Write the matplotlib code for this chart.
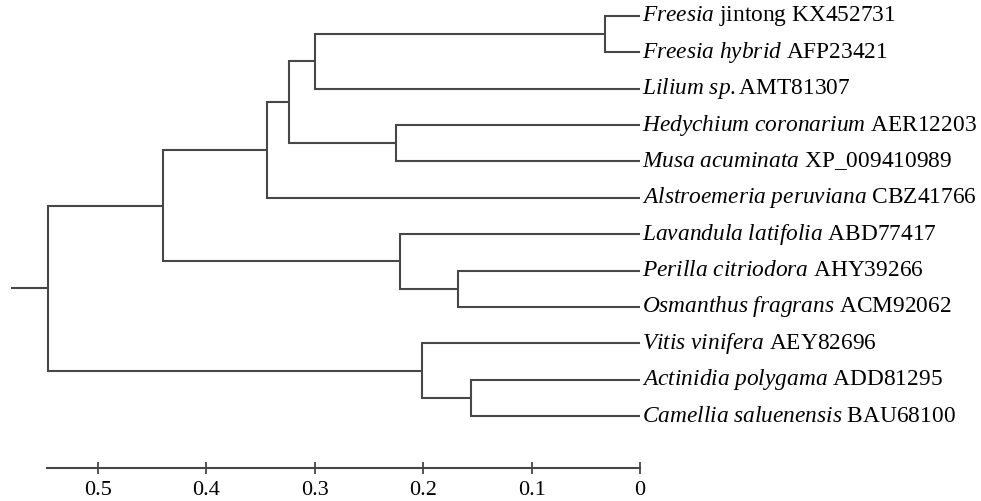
import matplotlib
matplotlib.use('Agg')
import numpy as np
import matplotlib.pyplot as plt

plt.rcParams['font.family'] = ['Liberation Serif', 'DejaVu Serif']
plt.rcParams['mathtext.fontset'] = 'custom'
plt.rcParams['mathtext.rm'] = 'Liberation Serif'
plt.rcParams['mathtext.it'] = 'Liberation Serif:italic'

## DATA
# leaf names: italic part + plain part
species = ['Freesia', 'Freesia hybrid', 'Lilium sp.', 'Hedychium coronarium',
           'Musa acuminata', 'Alstroemeria peruviana', 'Lavandula latifolia',
           'Perilla citriodora', 'Osmanthus fragrans', 'Vitis vinifera',
           'Actinidia polygama', 'Camellia saluenensis']
accessions = [' jintong KX452731', ' AFP23421', 'AMT81307', ' AER12203',
              ' XP_009410989', ' CBZ41766', ' ABD77417', ' AHY39266',
              ' ACM92062', ' AEY82696', ' ADD81295', ' BAU68100']

# merges (leaves are 0..11, new clades numbered from 12)
merge_pairs = [(0, 1), (12, 2), (3, 4), (13, 14), (15, 5), (7, 8),
               (6, 17), (10, 11), (9, 19), (16, 18), (21, 20)]
merge_heights = [0.032, 0.300, 0.225, 0.324, 0.344, 0.168,
                 0.221, 0.156, 0.201, 0.440, 0.546]
root_stub = 0.580

scale_ticks = [0.5, 0.4, 0.3, 0.2, 0.1, 0]
scale_labels = ['0.5', '0.4', '0.3', '0.2', '0.1', '0']
scale_start = 0.547

## FIGURE
W, H = 981, 501
fig = plt.figure(figsize=(W / 100, H / 100), dpi=100)
ax = fig.add_axes([0, 0, 1, 1])
ax.axis('off')

px_per_unit = 1084.0
x_tip = 640.0
ax.set_xlim(x_tip / px_per_unit, -(W - x_tip) / px_per_unit)
y0, dy = 16.0, 400.0 / 11
ax.set_ylim((H - y0) / dy, -y0 / dy)

line_kw = dict(color='#474747', lw=1.5, solid_joinstyle='miter', solid_capstyle='butt')

n = len(species)
ypos = {i: float(i) for i in range(n)}
hpos = {i: 0.0 for i in range(n)}
for k, ((a, b), h) in enumerate(zip(merge_pairs, merge_heights)):
    node = n + k
    ax.plot([hpos[a], h, h, hpos[b]], [ypos[a], ypos[a], ypos[b], ypos[b]], **line_kw)
    ypos[node] = (ypos[a] + ypos[b]) / 2
    hpos[node] = h

root = n + len(merge_pairs) - 1
ax.plot([hpos[root], root_stub], [ypos[root], ypos[root]], **line_kw)

for i, (sp, acc) in enumerate(zip(species, accessions)):
    it = sp.replace(' ', r'\ ')
    label = r'$\mathit{' + it + '}$' + acc
    ax.text(-2 / px_per_unit, i, label, fontsize=16.8, va='center', ha='left')

# scale bar
sx0 = x_tip - scale_start * px_per_unit
sax = fig.add_axes([sx0 / W, (H - 468) / H, (x_tip - sx0) / W, 0.0001])
sax.set_xlim(scale_start, 0)
for s in ['top', 'left', 'right']:
    sax.spines[s].set_visible(False)
sax.spines['bottom'].set_color('#474747')
sax.spines['bottom'].set_linewidth(1.5)
sax.set_yticks([])
sax.set_xticks(scale_ticks)
sax.set_xticklabels(scale_labels)
sax.tick_params(axis='x', direction='inout', length=9, width=1.3, color='#474747',
                labelsize=16, pad=5)
sax.patch.set_visible(False)

fig.savefig('out.png', dpi=100)
